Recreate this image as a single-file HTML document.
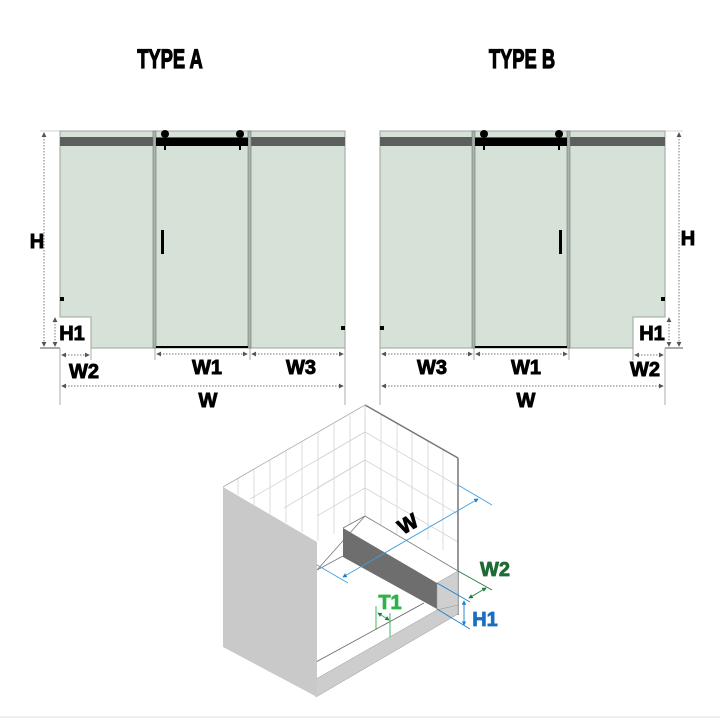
<!DOCTYPE html>
<html><head><meta charset="utf-8"><style>
html,body{margin:0;padding:0;background:#fff;width:720px;height:720px;overflow:hidden}
svg{display:block}
</style></head><body>
<svg width="720" height="720" viewBox="0 0 720 720" xmlns="http://www.w3.org/2000/svg" font-family="Liberation Sans, sans-serif">
<defs>
<marker id="a" viewBox="0 0 6 6" refX="5" refY="3" markerWidth="5" markerHeight="5" orient="auto-start-reverse"><path d="M0,0 L6,3 L0,6z" fill="#555"/></marker>
<marker id="b" viewBox="0 0 6 6" refX="5" refY="3" markerWidth="5" markerHeight="5" orient="auto-start-reverse"><path d="M0,0 L6,3 L0,6z" fill="#1a7fd0"/></marker>
<marker id="g" viewBox="0 0 6 6" refX="5" refY="3" markerWidth="5" markerHeight="5" orient="auto-start-reverse"><path d="M0,0 L6,3 L0,6z" fill="#1e7a3a"/></marker>
</defs>
<g font-size="27" font-weight="bold" stroke="#000" stroke-width="1.2" text-anchor="middle">
<text x="170" y="68" transform="translate(170,0) scale(0.68,1) translate(-170,0)">TYPE A</text>
<text x="522" y="68" transform="translate(522,0) scale(0.68,1) translate(-522,0)">TYPE B</text>
</g>

<!-- TYPE A -->
<g>
<path d="M60,131 H345 V348 H91 V317 H60 Z" fill="#d6e2d8" stroke="#9aa59c" stroke-width="1"/>
<rect x="60" y="137" width="285" height="9" fill="#5d5f5e"/>
<rect x="153" y="131" width="3" height="217" fill="#a9b5ab" stroke="#6c756e" stroke-width="0.6"/>
<rect x="248" y="131" width="3" height="217" fill="#a9b5ab" stroke="#6c756e" stroke-width="0.6"/>
<rect x="156" y="138" width="92" height="8" fill="#000"/>
<circle cx="165" cy="134" r="4" fill="#000"/><circle cx="240" cy="134" r="4" fill="#000"/>
<rect x="164" y="145" width="2" height="5" fill="#000"/><rect x="239" y="145" width="2" height="5" fill="#000"/>
<rect x="161" y="230" width="3" height="24" fill="#000"/>
<rect x="60" y="297" width="4" height="4" fill="#000"/>
<rect x="341" y="326" width="4" height="4" fill="#000"/>
<line x1="156" y1="347" x2="248" y2="347" stroke="#000" stroke-width="2"/>
<line x1="40" y1="348" x2="60" y2="348" stroke="#555"/>
<line x1="40" y1="131" x2="60" y2="131" stroke="#aaa" stroke-width="0.6"/>
<line x1="44" y1="133" x2="44" y2="346" stroke="#777" stroke-dasharray="1.5,1.5" marker-start="url(#a)" marker-end="url(#a)"/>
<line x1="55" y1="318" x2="55" y2="346" stroke="#777" stroke-dasharray="1.5,1.5" marker-start="url(#a)" marker-end="url(#a)"/>
<line x1="60" y1="348" x2="60" y2="405" stroke="#888" stroke-width="0.7"/>
<line x1="345" y1="348" x2="345" y2="405" stroke="#888" stroke-width="0.7"/>
<line x1="155" y1="348" x2="155" y2="360" stroke="#888" stroke-width="0.7"/>
<line x1="250" y1="348" x2="250" y2="360" stroke="#888" stroke-width="0.7"/>
<line x1="91" y1="348" x2="91" y2="360" stroke="#888" stroke-width="0.7"/>
<line x1="62" y1="355" x2="89" y2="355" stroke="#777" stroke-dasharray="1.5,1.5" marker-start="url(#a)" marker-end="url(#a)"/>
<line x1="157" y1="354" x2="247" y2="354" stroke="#777" stroke-dasharray="1.5,1.5" marker-start="url(#a)" marker-end="url(#a)"/>
<line x1="252" y1="354" x2="343" y2="354" stroke="#777" stroke-dasharray="1.5,1.5" marker-start="url(#a)" marker-end="url(#a)"/>
<line x1="62" y1="386" x2="343" y2="386" stroke="#777" stroke-dasharray="1.5,1.5" marker-start="url(#a)" marker-end="url(#a)"/>
<g font-weight="bold" font-size="20" text-anchor="middle" stroke="#000" stroke-width="0.9">
<text x="37" y="248">H</text><text x="72" y="340">H1</text><text x="84" y="378">W2</text>
<text x="207" y="374">W1</text><text x="301" y="374">W3</text><text x="208" y="407">W</text>
</g>
</g>

<!-- TYPE B -->
<g>
<path d="M380,131 H665 V317 H633 V348 H380 Z" fill="#d6e2d8" stroke="#9aa59c" stroke-width="1"/>
<rect x="380" y="137" width="285" height="9" fill="#5d5f5e"/>
<rect x="472" y="131" width="3" height="217" fill="#a9b5ab" stroke="#6c756e" stroke-width="0.6"/>
<rect x="567" y="131" width="3" height="217" fill="#a9b5ab" stroke="#6c756e" stroke-width="0.6"/>
<rect x="475" y="138" width="92" height="8" fill="#000"/>
<circle cx="484" cy="134" r="4" fill="#000"/><circle cx="559" cy="134" r="4" fill="#000"/>
<rect x="483" y="145" width="2" height="5" fill="#000"/><rect x="558" y="145" width="2" height="5" fill="#000"/>
<rect x="559" y="230" width="3" height="24" fill="#000"/>
<rect x="661" y="297" width="4" height="4" fill="#000"/>
<rect x="380" y="326" width="4" height="4" fill="#000"/>
<line x1="475" y1="347" x2="567" y2="347" stroke="#000" stroke-width="2"/>
<line x1="665" y1="348" x2="683" y2="348" stroke="#555"/>
<line x1="665" y1="131" x2="683" y2="131" stroke="#aaa" stroke-width="0.6"/>
<line x1="679" y1="133" x2="679" y2="346" stroke="#777" stroke-dasharray="1.5,1.5" marker-start="url(#a)" marker-end="url(#a)"/>
<line x1="669" y1="318" x2="669" y2="346" stroke="#777" stroke-dasharray="1.5,1.5" marker-start="url(#a)" marker-end="url(#a)"/>
<line x1="380" y1="348" x2="380" y2="405" stroke="#888" stroke-width="0.7"/>
<line x1="665" y1="348" x2="665" y2="405" stroke="#888" stroke-width="0.7"/>
<line x1="474" y1="348" x2="474" y2="360" stroke="#888" stroke-width="0.7"/>
<line x1="569" y1="348" x2="569" y2="360" stroke="#888" stroke-width="0.7"/>
<line x1="633" y1="348" x2="633" y2="360" stroke="#888" stroke-width="0.7"/>
<line x1="635" y1="355" x2="663" y2="355" stroke="#777" stroke-dasharray="1.5,1.5" marker-start="url(#a)" marker-end="url(#a)"/>
<line x1="382" y1="354" x2="472" y2="354" stroke="#777" stroke-dasharray="1.5,1.5" marker-start="url(#a)" marker-end="url(#a)"/>
<line x1="476" y1="354" x2="567" y2="354" stroke="#777" stroke-dasharray="1.5,1.5" marker-start="url(#a)" marker-end="url(#a)"/>
<line x1="382" y1="386" x2="663" y2="386" stroke="#777" stroke-dasharray="1.5,1.5" marker-start="url(#a)" marker-end="url(#a)"/>
<g font-weight="bold" font-size="20" text-anchor="middle" stroke="#000" stroke-width="0.9">
<text x="688" y="245">H</text><text x="652" y="340">H1</text><text x="645" y="376">W2</text>
<text x="432" y="374">W3</text><text x="526" y="374">W1</text><text x="526" y="407">W</text>
</g>
</g>

<!-- ISO -->
<g stroke-linejoin="round">
<g stroke="#d4d4d4" stroke-width="0.8" fill="none">
<line x1="238" y1="478" x2="238" y2="495"/><line x1="254" y1="469" x2="254" y2="505"/><line x1="270" y1="460" x2="270" y2="514"/>
<line x1="286" y1="451" x2="286" y2="523"/><line x1="302" y1="442" x2="302" y2="532"/><line x1="318" y1="433" x2="318" y2="541"/>
<line x1="334" y1="424" x2="334" y2="534"/><line x1="350" y1="415" x2="350" y2="525"/>
<line x1="381" y1="414" x2="381" y2="525"/><line x1="397" y1="423" x2="397" y2="534"/><line x1="412" y1="432" x2="412" y2="530"/>
<line x1="428" y1="441" x2="428" y2="540"/><line x1="443" y1="450" x2="443" y2="550"/>
<line x1="317" y1="460" x2="365" y2="432"/><line x1="317" y1="488" x2="365" y2="460"/><line x1="317" y1="516" x2="365" y2="488"/>
<line x1="250" y1="499" x2="365" y2="432" /><line x1="284" y1="508" x2="365" y2="460"/>
<line x1="365" y1="432" x2="458" y2="486"/><line x1="365" y1="460" x2="458" y2="514"/><line x1="365" y1="488" x2="458" y2="542"/>
</g>
<line x1="223" y1="487" x2="365" y2="405" stroke="#aaa" stroke-width="0.8"/>
<line x1="365" y1="405" x2="458" y2="458" stroke="#777" stroke-width="1.5"/>
<line x1="458" y1="458" x2="458" y2="615" stroke="#777" stroke-width="1.5"/>
<line x1="365" y1="405" x2="365" y2="516" stroke="#ccc" stroke-width="0.8"/>
<line x1="317" y1="570" x2="365" y2="516" stroke="#777" stroke-width="0.8"/>
<line x1="317" y1="570" x2="343" y2="556" stroke="#777" stroke-width="0.8"/>
<line x1="365" y1="516" x2="458" y2="571" stroke="#777" stroke-width="0.8"/>
<polygon points="343,528 437,583 437,609 343,557" fill="#6e6e6e"/>
<polygon points="437,583 458,571 458,605 437,610" fill="#cfcfcf" stroke="#999" stroke-width="0.5"/>
<line x1="343" y1="528" x2="365" y2="516" stroke="#777" stroke-width="0.8"/>
<line x1="316" y1="662" x2="424" y2="603" stroke="#666" stroke-width="0.8"/>
<polygon points="316,679 437,610 458,605 458,614 316,697" fill="#cdcdcd" stroke="#999" stroke-width="0.5"/>
<polygon points="223,487 317,542 317,697 223,647" fill="#c9c9c9"/>
<g stroke="#3da0e0" stroke-width="0.9">
<line x1="458" y1="485" x2="492" y2="505"/>
<line x1="317" y1="565" x2="348" y2="583"/>
<line x1="343" y1="577" x2="478" y2="499" marker-start="url(#b)" marker-end="url(#b)"/>
</g>
<g stroke="#1a7fd0" stroke-width="0.9">
<line x1="437" y1="583" x2="470" y2="602"/>
<line x1="437" y1="609" x2="470" y2="629"/>
<line x1="464" y1="601" x2="464" y2="625" marker-start="url(#b)" marker-end="url(#b)"/>
</g>
<g stroke="#1e7a3a" stroke-width="0.9">
<line x1="458" y1="571" x2="492" y2="590"/>
<line x1="469" y1="598" x2="486" y2="588" marker-start="url(#g)" marker-end="url(#g)"/>
</g>
<g stroke="#2db34a" stroke-width="0.9">
<line x1="376" y1="606" x2="376" y2="630"/><line x1="390" y1="613" x2="390" y2="637"/>
<line x1="378" y1="613" x2="389" y2="620" marker-start="url(#g)" marker-end="url(#g)"/>
</g>
<text x="408" y="531" font-size="21" font-weight="bold" text-anchor="middle" stroke="#000" stroke-width="0.9" transform="rotate(-30 408 524)">W</text>
<text x="495" y="576" font-size="20" font-weight="bold" fill="#1e6b35" stroke="#1e6b35" stroke-width="0.8" text-anchor="middle">W2</text>
<text x="485" y="626" font-size="20" font-weight="bold" fill="#1a6fc0" stroke="#1a6fc0" stroke-width="0.8" text-anchor="middle">H1</text>
<text x="390" y="609" font-size="20" font-weight="bold" fill="#2db34a" stroke="#2db34a" stroke-width="0.8" text-anchor="middle">T1</text>
</g>
<line x1="0" y1="717" x2="720" y2="717" stroke="#eee" stroke-width="2"/>
</svg>
</body></html>
